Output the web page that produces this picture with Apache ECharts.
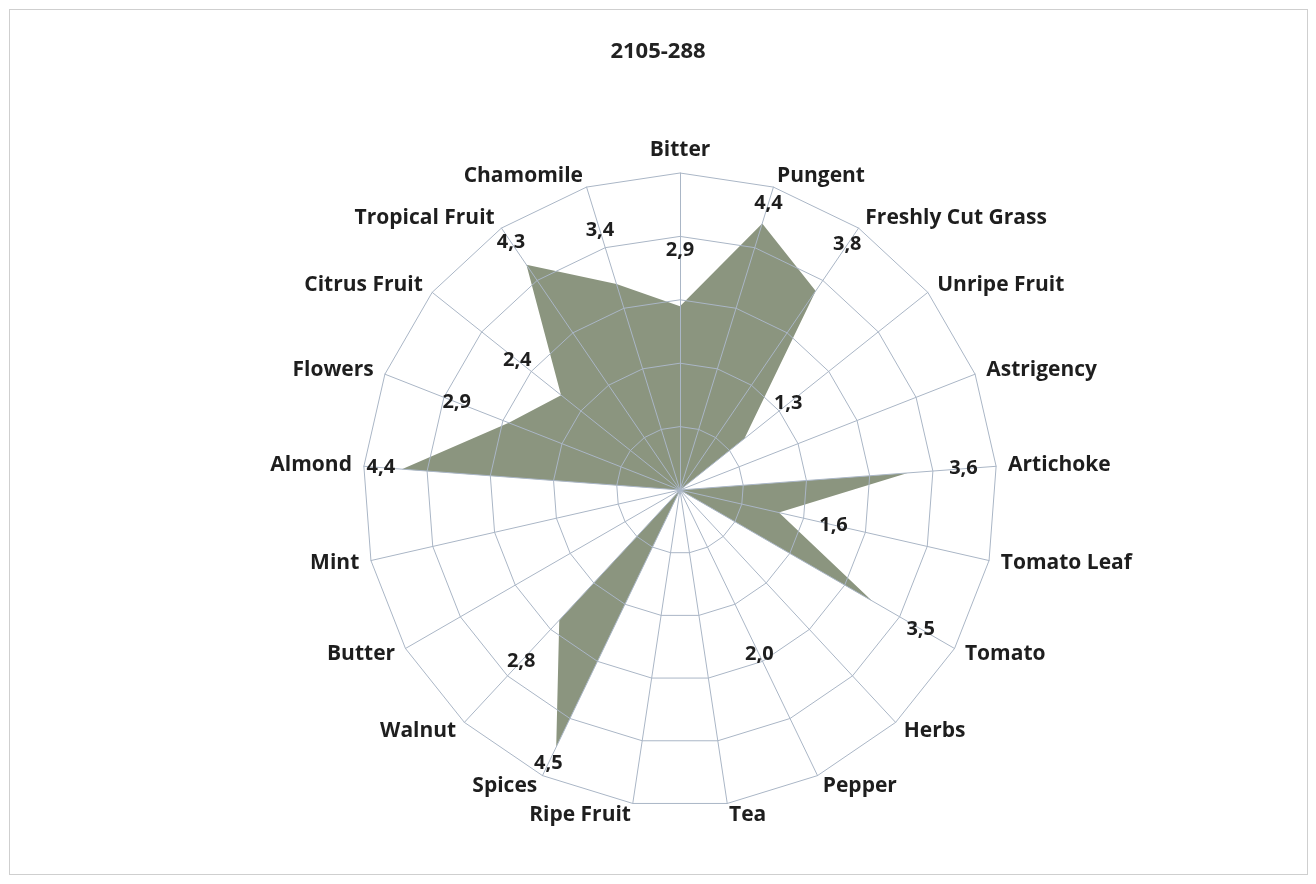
<!DOCTYPE html>
<html>
<head>
<meta charset="utf-8">
<script src="https://cdn.jsdelivr.net/npm/echarts@6/dist/echarts.min.js"></script>
<style>
  html, body { margin: 0; padding: 0; background: #ffffff; }
  #frame { position: absolute; left: 9px; top: 9px; width: 1297px; height: 864px; border: 1px solid #cfcfcf; }
  #chart { position: absolute; left: 0; top: 0; width: 1316px; height: 884px; }
</style>
</head>
<body>
<div id="frame"></div>
<div id="chart"></div>
<script>
// Categories in clockwise order starting from the top
const categories = ['Bitter', 'Pungent', 'Freshly Cut Grass', 'Unripe Fruit', 'Astrigency', 'Artichoke',
  'Tomato Leaf', 'Tomato', 'Herbs', 'Pepper', 'Tea', 'Ripe Fruit', 'Spices', 'Walnut', 'Butter',
  'Mint', 'Almond', 'Flowers', 'Citrus Fruit', 'Tropical Fruit', 'Chamomile'];
// Values of the filled shape
const values = [2.9, 4.4, 3.8, 1.3, 0, 3.6, 1.6, 3.5, 0, 0, 0, 0, 4.5, 2.8, 0, 0, 4.4, 2.9, 2.4, 4.3, 3.4];
// Values shown as data labels (0 = no label)
const labelValues = [2.9, 4.4, 3.8, 1.3, 0, 3.6, 1.6, 3.5, 0, 2.0, 0, 0, 4.5, 2.8, 0, 0, 4.4, 2.9, 2.4, 4.3, 3.4];
const axisMax = 5;
const ringCount = 5;
const title = '2105-288';

const n = categories.length;
// ECharts radar runs counter-clockwise: reorder so display is clockwise
const order = [0];
for (let i = n - 1; i >= 1; i--) order.push(i);
const reorder = arr => order.map(i => arr[i]);

const FONT = '"Open Sans", "Noto Sans", sans-serif';
const gridColor = '#aab6c6';
const fillColor = '#8b957f';
const RADIUS = 317;

const labelItems = [];
labelValues.forEach((v, i) => {
  if (!v) return;
  const arr = categories.map((_, j) => (j === i ? v : 0));
  const a = i * 2 * Math.PI / n;
  const pointDist = v / axisMax * RADIUS;
  // push labels outward, but keep them inside the outer ring
  const d = Math.max(18, Math.min(56, RADIUS - 17 - pointDist));
  labelItems.push({
    value: reorder(arr),
    label: {
      show: true,
      position: 'inside',
      offset: [Math.sin(a) * d, -Math.cos(a) * d],
      formatter: p => {
        const val = Array.isArray(p.value) ? 0 : p.value;
        return val > 0 ? val.toFixed(1).replace('.', ',') : '';
      }
    }
  });
});

const chart = echarts.init(document.getElementById('chart'), null, { renderer: 'canvas' });
chart.setOption({
  animation: false,
  backgroundColor: 'transparent',
  title: {
    text: title,
    left: 'center',
    top: 36,
    textStyle: { fontFamily: FONT, fontSize: 22, fontWeight: 'bold', color: '#222' }
  },
  radar: {
    z: 5,
    center: [680, 490],
    radius: RADIUS,
    startAngle: 90,
    splitNumber: ringCount,
    shape: 'polygon',
    indicator: reorder(categories).map(c => ({ name: c, max: axisMax, min: 0 })),
    axisName: { color: '#1e1e1e', fontFamily: FONT, fontSize: 21, fontWeight: 'bold' },
    nameGap: 12,
    axisLine: { show: true, lineStyle: { color: gridColor, width: 1 } },
    splitLine: { show: true, lineStyle: { color: gridColor, width: 1 } },
    splitArea: { show: false },
    axisTick: { show: false },
    axisLabel: { show: false }
  },
  series: [
    {
      type: 'radar',
      z: 2,
      symbol: 'none',
      lineStyle: { width: 0, opacity: 0 },
      areaStyle: { color: fillColor, opacity: 1 },
      data: [{ value: reorder(values) }],
      silent: true
    },
    {
      type: 'radar',
      z: 10,
      symbol: 'circle',
      symbolSize: 0,
      lineStyle: { width: 0, opacity: 0 },
      label: {
        color: '#1e1e1e', fontFamily: FONT, fontSize: 20, fontWeight: 'bold'
      },
      data: labelItems,
      silent: true
    }
  ]
});
</script>
</body>
</html>
